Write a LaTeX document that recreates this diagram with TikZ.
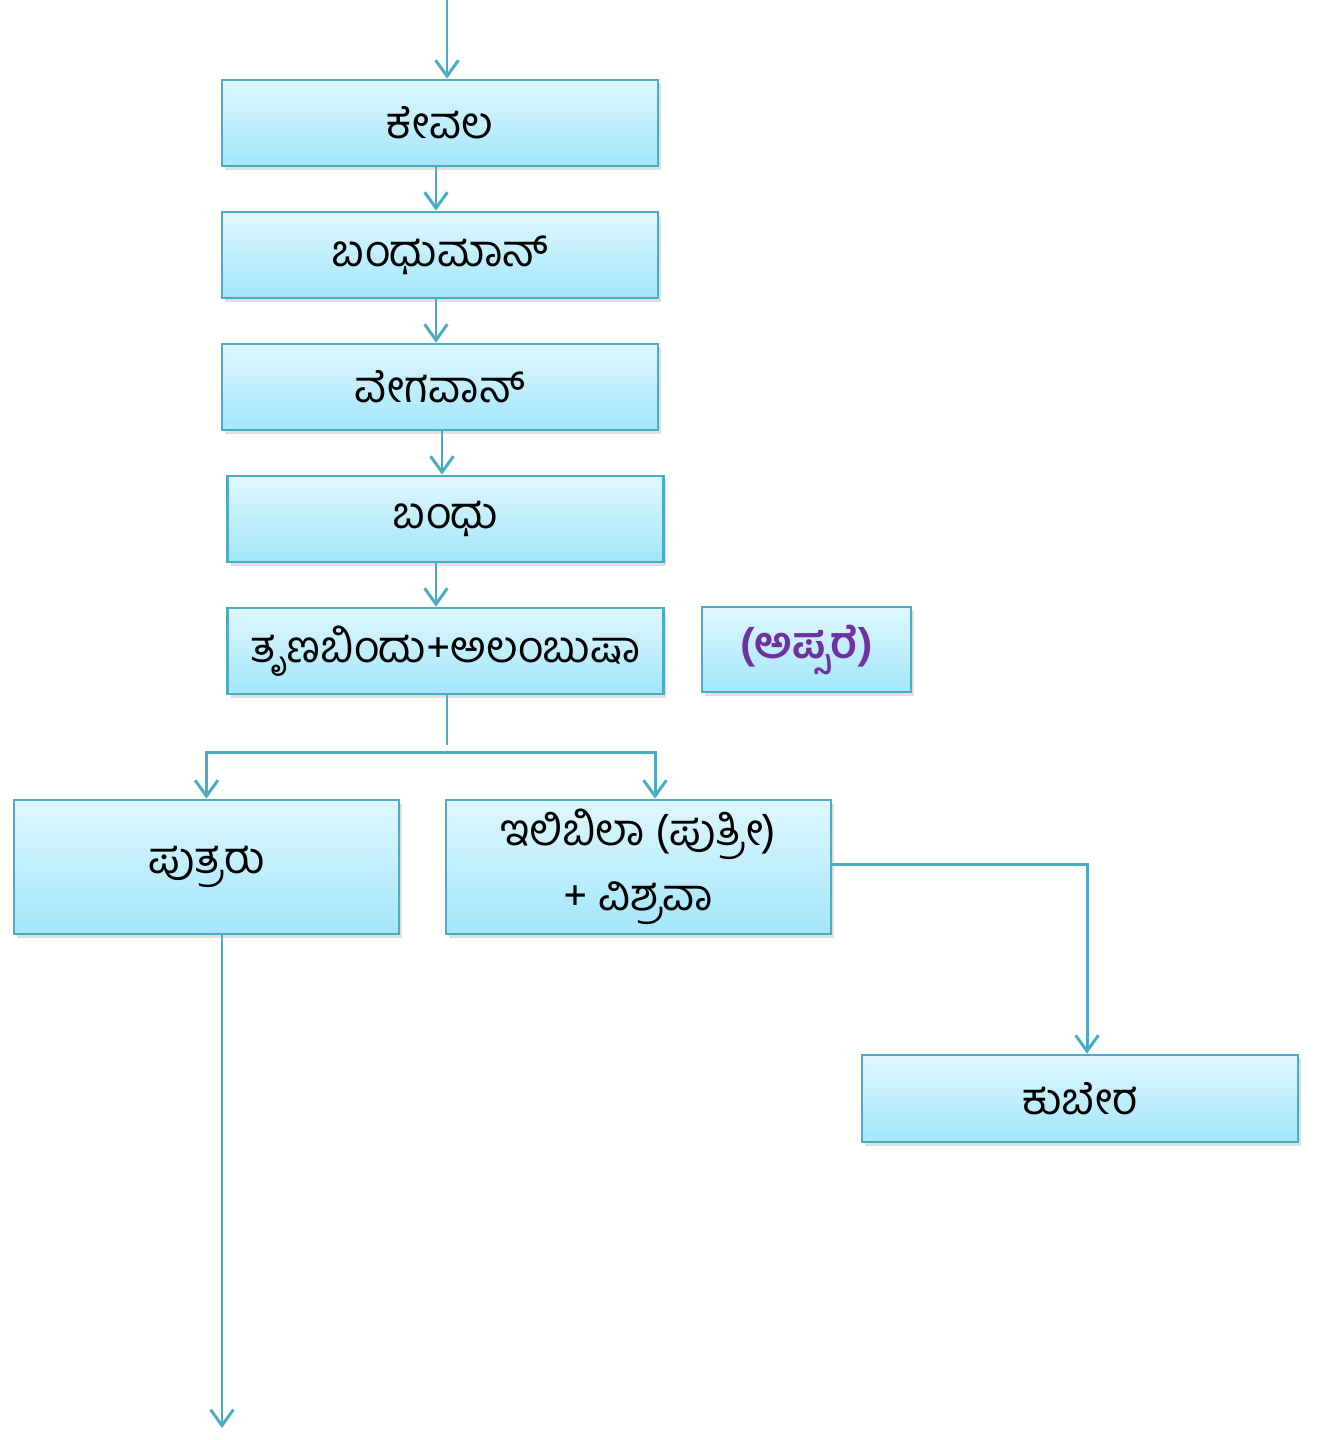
\documentclass[tikz,border=0pt]{standalone}
\usepackage{fontspec}
\usepackage{tikz}
\usetikzlibrary{arrows.meta,shadows}
\newfontfamily\kn[Script=Kannada]{Hind Mysuru}
\definecolor{linkblue}{HTML}{4BACC6}
\definecolor{boxtop}{HTML}{E0F7FE}
\definecolor{boxbottom}{HTML}{A2E6FB}
\definecolor{apsarapurple}{HTML}{7030A0}
\tikzset{
	famnode/.style = {draw=linkblue, line width=1.6pt, top color=boxtop, bottom color=boxbottom,
		minimum width=8.72cm, minimum height=1.72cm, inner sep=0pt, align=center,
		font=\kn\fontsize{25}{37}\selectfont,
		drop shadow={opacity=0.25, shadow xshift=0.06cm, shadow yshift=-0.08cm}},
	wide/.style = {minimum width=7.7cm, minimum height=2.68cm},
	link/.style = {draw=linkblue, line width=1.7pt, -{Straight Barb[length=9pt,width=13pt,line width=1.7pt]}}
}
\begin{document}
\begin{tikzpicture}[x=0.02cm, y=-0.02cm]
		\useasboundingbox (0,0) rectangle (1328,1440);
		% line of descent
		\node[famnode] (kevala) at (440,123) {ಕೇವಲ};
		\node[famnode] (bandhuman) at (440,255) {ಬಂಧುಮಾನ್};
		\node[famnode] (vegavan) at (440,387) {ವೇಗವಾನ್};
		\node[famnode] (bandhu) at (445.5,519) {ಬಂಧು};
		\node[famnode] (trnabindu) at (445.5,651) {ತೃಣಬಿಂದು+ಅಲಂಬುಷಾ};
		\node[famnode, minimum width=4.18cm, minimum height=1.7cm, text=apsarapurple, font=\kn\bfseries\fontsize{25}{37}\selectfont] (apsare) at (806.5,649.5) {(ಅಪ್ಸರೆ)};
		\node[famnode, wide] (putraru) at (206.5,867) {ಪುತ್ರರು};
		\node[famnode, wide] (ilibila) at (638.5,867) {ಇಲಿಬಿಲಾ (ಪುತ್ರೀ)\\+ ವಿಶ್ರವಾ};
		\node[famnode, minimum height=1.74cm] (kubera) at (1080,1098.5) {ಕುಬೇರ};
		\coordinate (top) at (447,0);
		\coordinate (split) at (447,752);
		\coordinate (down) at (222,1428);
		% connectors
		\draw[link] (top) -- (top |- kevala.north);
		\draw[link] (kevala.south -| 436,0) -- (bandhuman.north -| 436,0);
		\draw[link] (bandhuman.south -| 436,0) -- (vegavan.north -| 436,0);
		\draw[link] (vegavan.south -| 442,0) -- (bandhu.north -| 442,0);
		\draw[link] (bandhu.south -| 436,0) -- (trnabindu.north -| 436,0);
		\draw[draw=linkblue, line width=1.7pt] (trnabindu.south -| split) -- ([yshift=0.14cm]split);
		\draw[link] (split) -| (putraru.north);
		\draw[link] (split) -| (ilibila.north -| 655,0);
		\draw[link] (ilibila.east |- 0,864) -| (kubera.north -| 1087,0);
		\draw[link] (putraru.south -| down) -- (down);
	\end{tikzpicture}
\end{document}
